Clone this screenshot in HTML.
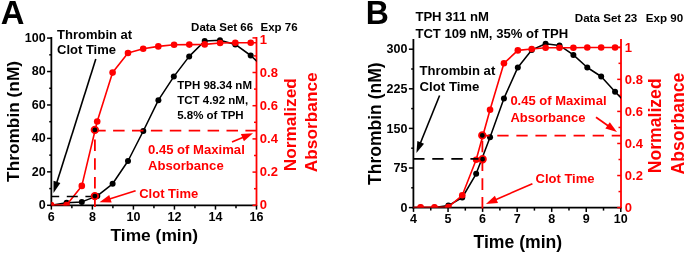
<!DOCTYPE html>
<html><head><meta charset="utf-8"><style>
html,body{margin:0;padding:0;background:#fff;}
svg{display:block;will-change:transform;filter:blur(0.35px);}
text{font-family:"Liberation Sans", sans-serif;font-weight:bold;}
</style></head><body>
<svg width="685" height="253" viewBox="0 0 685 253">
<rect width="685" height="253" fill="#fff"/>
<clipPath id="ca"><rect x="51.35" y="31.0" width="205.15" height="174.5"/></clipPath>
<clipPath id="cb"><rect x="413.2" y="33" width="207.8" height="174.6"/></clipPath>
<line x1="51.35" y1="37.00" x2="51.35" y2="206.20" stroke="#000000" stroke-width="1.8" stroke-linecap="butt"/>
<line x1="50.45" y1="205.30" x2="256.50" y2="205.30" stroke="#000000" stroke-width="1.8" stroke-linecap="butt"/>
<line x1="256.50" y1="37.00" x2="256.50" y2="206.20" stroke="#ff0000" stroke-width="1.8" stroke-linecap="butt"/>
<line x1="47.05" y1="205.30" x2="51.35" y2="205.30" stroke="#000000" stroke-width="1.5" stroke-linecap="butt"/>
<line x1="49.25" y1="188.58" x2="51.35" y2="188.58" stroke="#000000" stroke-width="1.5" stroke-linecap="butt"/>
<line x1="47.05" y1="171.86" x2="51.35" y2="171.86" stroke="#000000" stroke-width="1.5" stroke-linecap="butt"/>
<line x1="49.25" y1="155.14" x2="51.35" y2="155.14" stroke="#000000" stroke-width="1.5" stroke-linecap="butt"/>
<line x1="47.05" y1="138.42" x2="51.35" y2="138.42" stroke="#000000" stroke-width="1.5" stroke-linecap="butt"/>
<line x1="49.25" y1="121.70" x2="51.35" y2="121.70" stroke="#000000" stroke-width="1.5" stroke-linecap="butt"/>
<line x1="47.05" y1="104.98" x2="51.35" y2="104.98" stroke="#000000" stroke-width="1.5" stroke-linecap="butt"/>
<line x1="49.25" y1="88.26" x2="51.35" y2="88.26" stroke="#000000" stroke-width="1.5" stroke-linecap="butt"/>
<line x1="47.05" y1="71.54" x2="51.35" y2="71.54" stroke="#000000" stroke-width="1.5" stroke-linecap="butt"/>
<line x1="49.25" y1="54.82" x2="51.35" y2="54.82" stroke="#000000" stroke-width="1.5" stroke-linecap="butt"/>
<line x1="47.05" y1="38.10" x2="51.35" y2="38.10" stroke="#000000" stroke-width="1.5" stroke-linecap="butt"/>
<line x1="51.35" y1="205.30" x2="51.35" y2="209.60" stroke="#000000" stroke-width="1.5" stroke-linecap="butt"/>
<line x1="71.87" y1="205.30" x2="71.87" y2="208.30" stroke="#000000" stroke-width="1.5" stroke-linecap="butt"/>
<line x1="92.38" y1="205.30" x2="92.38" y2="209.60" stroke="#000000" stroke-width="1.5" stroke-linecap="butt"/>
<line x1="112.90" y1="205.30" x2="112.90" y2="208.30" stroke="#000000" stroke-width="1.5" stroke-linecap="butt"/>
<line x1="133.41" y1="205.30" x2="133.41" y2="209.60" stroke="#000000" stroke-width="1.5" stroke-linecap="butt"/>
<line x1="153.93" y1="205.30" x2="153.93" y2="208.30" stroke="#000000" stroke-width="1.5" stroke-linecap="butt"/>
<line x1="174.44" y1="205.30" x2="174.44" y2="209.60" stroke="#000000" stroke-width="1.5" stroke-linecap="butt"/>
<line x1="194.95" y1="205.30" x2="194.95" y2="208.30" stroke="#000000" stroke-width="1.5" stroke-linecap="butt"/>
<line x1="215.47" y1="205.30" x2="215.47" y2="209.60" stroke="#000000" stroke-width="1.5" stroke-linecap="butt"/>
<line x1="235.99" y1="205.30" x2="235.99" y2="208.30" stroke="#000000" stroke-width="1.5" stroke-linecap="butt"/>
<line x1="256.50" y1="205.30" x2="256.50" y2="209.60" stroke="#000000" stroke-width="1.5" stroke-linecap="butt"/>
<line x1="252.50" y1="205.30" x2="256.50" y2="205.30" stroke="#ff0000" stroke-width="1.5" stroke-linecap="butt"/>
<line x1="254.00" y1="188.70" x2="256.50" y2="188.70" stroke="#ff0000" stroke-width="1.5" stroke-linecap="butt"/>
<line x1="252.50" y1="172.10" x2="256.50" y2="172.10" stroke="#ff0000" stroke-width="1.5" stroke-linecap="butt"/>
<line x1="254.00" y1="155.50" x2="256.50" y2="155.50" stroke="#ff0000" stroke-width="1.5" stroke-linecap="butt"/>
<line x1="252.50" y1="138.90" x2="256.50" y2="138.90" stroke="#ff0000" stroke-width="1.5" stroke-linecap="butt"/>
<line x1="254.00" y1="122.30" x2="256.50" y2="122.30" stroke="#ff0000" stroke-width="1.5" stroke-linecap="butt"/>
<line x1="252.50" y1="105.70" x2="256.50" y2="105.70" stroke="#ff0000" stroke-width="1.5" stroke-linecap="butt"/>
<line x1="254.00" y1="89.10" x2="256.50" y2="89.10" stroke="#ff0000" stroke-width="1.5" stroke-linecap="butt"/>
<line x1="252.50" y1="72.50" x2="256.50" y2="72.50" stroke="#ff0000" stroke-width="1.5" stroke-linecap="butt"/>
<line x1="254.00" y1="55.90" x2="256.50" y2="55.90" stroke="#ff0000" stroke-width="1.5" stroke-linecap="butt"/>
<line x1="252.50" y1="37.90" x2="256.50" y2="37.90" stroke="#ff0000" stroke-width="1.5" stroke-linecap="butt"/>
<g clip-path="url(#ca)">
<polyline points="51.10,205.30 66.60,202.70 81.80,201.90 97.30,195.90 112.60,183.80 128.00,161.00 143.30,131.00 158.40,100.20 173.80,76.60 189.20,56.40 204.70,41.00 220.00,40.20 235.30,44.40 250.70,55.50 262.00,66.00" fill="none" stroke="#000000" stroke-width="1.55" stroke-linejoin="round"/>
<circle cx="51.10" cy="205.30" r="3.0" fill="#000000"/>
<circle cx="66.60" cy="202.70" r="3.0" fill="#000000"/>
<circle cx="81.80" cy="201.90" r="3.0" fill="#000000"/>
<circle cx="97.30" cy="195.90" r="3.0" fill="#000000"/>
<circle cx="112.60" cy="183.80" r="3.0" fill="#000000"/>
<circle cx="128.00" cy="161.00" r="3.0" fill="#000000"/>
<circle cx="143.30" cy="131.00" r="3.0" fill="#000000"/>
<circle cx="158.40" cy="100.20" r="3.0" fill="#000000"/>
<circle cx="173.80" cy="76.60" r="3.0" fill="#000000"/>
<circle cx="189.20" cy="56.40" r="3.0" fill="#000000"/>
<circle cx="204.70" cy="41.00" r="3.0" fill="#000000"/>
<circle cx="220.00" cy="40.20" r="3.0" fill="#000000"/>
<circle cx="235.30" cy="44.40" r="3.0" fill="#000000"/>
<circle cx="250.70" cy="55.50" r="3.0" fill="#000000"/>
<polyline points="51.10,205.00 66.60,205.00 81.80,185.90 97.20,121.50 112.60,72.60 128.00,53.00 143.20,48.80 158.30,46.40 174.10,44.80 189.30,44.60 204.70,44.40 220.10,43.00 235.30,42.80 250.70,42.80 262.00,42.60" fill="none" stroke="#ff0000" stroke-width="1.6" stroke-linejoin="round"/>
<circle cx="51.10" cy="205.00" r="3.3" fill="#ff0000"/>
<circle cx="66.60" cy="205.00" r="3.3" fill="#ff0000"/>
<circle cx="81.80" cy="185.90" r="3.3" fill="#ff0000"/>
<circle cx="97.20" cy="121.50" r="3.3" fill="#ff0000"/>
<circle cx="112.60" cy="72.60" r="3.3" fill="#ff0000"/>
<circle cx="128.00" cy="53.00" r="3.3" fill="#ff0000"/>
<circle cx="143.20" cy="48.80" r="3.3" fill="#ff0000"/>
<circle cx="158.30" cy="46.40" r="3.3" fill="#ff0000"/>
<circle cx="174.10" cy="44.80" r="3.3" fill="#ff0000"/>
<circle cx="189.30" cy="44.60" r="3.3" fill="#ff0000"/>
<circle cx="204.70" cy="44.40" r="3.3" fill="#ff0000"/>
<circle cx="220.10" cy="43.00" r="3.3" fill="#ff0000"/>
<circle cx="235.30" cy="42.80" r="3.3" fill="#ff0000"/>
<circle cx="250.70" cy="42.80" r="3.3" fill="#ff0000"/>
</g>
<line x1="94.85" y1="130.70" x2="256.50" y2="130.70" stroke="#ff0000" stroke-width="1.8" stroke-linecap="butt" stroke-dasharray="11.5,7.4" stroke-dashoffset="0.65"/>
<line x1="94.90" y1="130.00" x2="94.90" y2="207.00" stroke="#ff0000" stroke-width="1.8" stroke-linecap="butt" stroke-dasharray="11.5,7.3" stroke-dashoffset="9.4"/>
<line x1="51.10" y1="196.50" x2="94.85" y2="196.50" stroke="#000000" stroke-width="1.6" stroke-linecap="butt" stroke-dasharray="11,7.6" stroke-dashoffset="2.9"/>
<circle cx="94.85" cy="129.90" r="3.3" fill="#000000" stroke="#ff0000" stroke-width="1.8"/>
<circle cx="94.85" cy="196.10" r="3.3" fill="#000000" stroke="#ff0000" stroke-width="1.8"/>
<text x="45.60" y="209.10" font-size="12.5" fill="#000000" text-anchor="end" >0</text>
<text x="45.60" y="175.66" font-size="12.5" fill="#000000" text-anchor="end" >20</text>
<text x="45.60" y="142.22" font-size="12.5" fill="#000000" text-anchor="end" >40</text>
<text x="45.60" y="108.78" font-size="12.5" fill="#000000" text-anchor="end" >60</text>
<text x="45.60" y="75.34" font-size="12.5" fill="#000000" text-anchor="end" >80</text>
<text x="45.60" y="41.90" font-size="12.5" fill="#000000" text-anchor="end" >100</text>
<text x="51.35" y="221.00" font-size="12.5" fill="#000000" text-anchor="middle" >6</text>
<text x="92.38" y="221.00" font-size="12.5" fill="#000000" text-anchor="middle" >8</text>
<text x="133.41" y="221.00" font-size="12.5" fill="#000000" text-anchor="middle" >10</text>
<text x="174.44" y="221.00" font-size="12.5" fill="#000000" text-anchor="middle" >12</text>
<text x="215.47" y="221.00" font-size="12.5" fill="#000000" text-anchor="middle" >14</text>
<text x="256.50" y="221.00" font-size="12.5" fill="#000000" text-anchor="middle" >16</text>
<text x="259.80" y="208.90" font-size="13" fill="#ff0000" text-anchor="start" >0</text>
<text x="259.80" y="176.20" font-size="13" fill="#ff0000" text-anchor="start" >0.2</text>
<text x="259.80" y="143.20" font-size="13" fill="#ff0000" text-anchor="start" >0.4</text>
<text x="259.80" y="109.80" font-size="13" fill="#ff0000" text-anchor="start" >0.6</text>
<text x="259.80" y="76.50" font-size="13" fill="#ff0000" text-anchor="start" >0.8</text>
<text x="259.80" y="43.50" font-size="13" fill="#ff0000" text-anchor="start" >1</text>
<text transform="translate(0.75,23.7) scale(1.025,1.035)" font-size="32" fill="#000000">A</text>
<text x="57.00" y="39.20" font-size="13" fill="#000000" text-anchor="start" >Thrombin at</text>
<text x="57.00" y="54.40" font-size="13" fill="#000000" text-anchor="start" >Clot Time</text>
<line x1="95.80" y1="59.00" x2="56.66" y2="182.89" stroke="#000000" stroke-width="1.6" stroke-linecap="butt"/>
<polygon points="53.50,192.90 53.53,180.85 60.40,183.02" fill="#000000"/>
<text x="191.10" y="31.30" font-size="11.5" fill="#000000" text-anchor="start" >Data Set 66</text>
<text x="260.50" y="31.30" font-size="11.5" fill="#000000" text-anchor="start" >Exp 76</text>
<text x="177.20" y="89.30" font-size="11.5" fill="#000000" text-anchor="start" >TPH 98.34 nM</text>
<text x="177.20" y="104.00" font-size="11.5" fill="#000000" text-anchor="start" >TCT 4.92 nM,</text>
<text x="177.20" y="118.70" font-size="11.5" fill="#000000" text-anchor="start" >5.8% of TPH</text>
<text x="148.00" y="154.30" font-size="13.1" fill="#ff0000" text-anchor="start" >0.45 of Maximal</text>
<text x="148.00" y="170.30" font-size="13.1" fill="#ff0000" text-anchor="start" >Absorbance</text>
<line x1="232.00" y1="142.00" x2="243.32" y2="137.26" stroke="#ff0000" stroke-width="1.7" stroke-linecap="butt"/>
<polygon points="253.00,133.20 243.90,141.24 240.89,134.05" fill="#ff0000"/>
<text x="139.20" y="197.70" font-size="13" fill="#ff0000" text-anchor="start" >Clot Time</text>
<line x1="135.60" y1="190.70" x2="109.50" y2="199.01" stroke="#ff0000" stroke-width="1.7" stroke-linecap="butt"/>
<polygon points="99.50,202.20 109.27,194.99 111.64,202.43" fill="#ff0000"/>
<text x="110.50" y="241.20" font-size="17.4" fill="#000000" text-anchor="start" >Time (min)</text>
<text transform="translate(19.0,181.9) rotate(-90)" font-size="17.3" fill="#000000">Thrombin (nM)</text>
<text transform="translate(295.7,171.3) rotate(-90)" font-size="17.3" fill="#ff0000">Normalized</text>
<text transform="translate(317.2,172.2) rotate(-90)" font-size="17.3" fill="#ff0000">Absorbance</text>
<line x1="413.40" y1="39.00" x2="413.40" y2="208.50" stroke="#000000" stroke-width="1.8" stroke-linecap="butt"/>
<line x1="412.50" y1="207.60" x2="621.00" y2="207.60" stroke="#000000" stroke-width="1.8" stroke-linecap="butt"/>
<line x1="621.00" y1="39.00" x2="621.00" y2="208.50" stroke="#ff0000" stroke-width="1.8" stroke-linecap="butt"/>
<line x1="408.90" y1="207.60" x2="413.40" y2="207.60" stroke="#000000" stroke-width="1.5" stroke-linecap="butt"/>
<line x1="411.20" y1="187.80" x2="413.40" y2="187.80" stroke="#000000" stroke-width="1.5" stroke-linecap="butt"/>
<line x1="408.90" y1="168.00" x2="413.40" y2="168.00" stroke="#000000" stroke-width="1.5" stroke-linecap="butt"/>
<line x1="411.20" y1="148.20" x2="413.40" y2="148.20" stroke="#000000" stroke-width="1.5" stroke-linecap="butt"/>
<line x1="408.90" y1="128.40" x2="413.40" y2="128.40" stroke="#000000" stroke-width="1.5" stroke-linecap="butt"/>
<line x1="411.20" y1="108.60" x2="413.40" y2="108.60" stroke="#000000" stroke-width="1.5" stroke-linecap="butt"/>
<line x1="408.90" y1="88.80" x2="413.40" y2="88.80" stroke="#000000" stroke-width="1.5" stroke-linecap="butt"/>
<line x1="411.20" y1="69.00" x2="413.40" y2="69.00" stroke="#000000" stroke-width="1.5" stroke-linecap="butt"/>
<line x1="408.90" y1="49.20" x2="413.40" y2="49.20" stroke="#000000" stroke-width="1.5" stroke-linecap="butt"/>
<line x1="413.50" y1="207.60" x2="413.50" y2="211.90" stroke="#000000" stroke-width="1.5" stroke-linecap="butt"/>
<line x1="430.77" y1="207.60" x2="430.77" y2="210.60" stroke="#000000" stroke-width="1.5" stroke-linecap="butt"/>
<line x1="448.05" y1="207.60" x2="448.05" y2="211.90" stroke="#000000" stroke-width="1.5" stroke-linecap="butt"/>
<line x1="465.32" y1="207.60" x2="465.32" y2="210.60" stroke="#000000" stroke-width="1.5" stroke-linecap="butt"/>
<line x1="482.60" y1="207.60" x2="482.60" y2="211.90" stroke="#000000" stroke-width="1.5" stroke-linecap="butt"/>
<line x1="499.88" y1="207.60" x2="499.88" y2="210.60" stroke="#000000" stroke-width="1.5" stroke-linecap="butt"/>
<line x1="517.15" y1="207.60" x2="517.15" y2="211.90" stroke="#000000" stroke-width="1.5" stroke-linecap="butt"/>
<line x1="534.42" y1="207.60" x2="534.42" y2="210.60" stroke="#000000" stroke-width="1.5" stroke-linecap="butt"/>
<line x1="551.70" y1="207.60" x2="551.70" y2="211.90" stroke="#000000" stroke-width="1.5" stroke-linecap="butt"/>
<line x1="568.98" y1="207.60" x2="568.98" y2="210.60" stroke="#000000" stroke-width="1.5" stroke-linecap="butt"/>
<line x1="586.25" y1="207.60" x2="586.25" y2="211.90" stroke="#000000" stroke-width="1.5" stroke-linecap="butt"/>
<line x1="603.52" y1="207.60" x2="603.52" y2="210.60" stroke="#000000" stroke-width="1.5" stroke-linecap="butt"/>
<line x1="620.80" y1="207.60" x2="620.80" y2="211.90" stroke="#000000" stroke-width="1.5" stroke-linecap="butt"/>
<line x1="617.20" y1="207.60" x2="621.00" y2="207.60" stroke="#ff0000" stroke-width="1.5" stroke-linecap="butt"/>
<line x1="618.50" y1="191.57" x2="621.00" y2="191.57" stroke="#ff0000" stroke-width="1.5" stroke-linecap="butt"/>
<line x1="617.20" y1="175.54" x2="621.00" y2="175.54" stroke="#ff0000" stroke-width="1.5" stroke-linecap="butt"/>
<line x1="618.50" y1="159.51" x2="621.00" y2="159.51" stroke="#ff0000" stroke-width="1.5" stroke-linecap="butt"/>
<line x1="617.20" y1="143.48" x2="621.00" y2="143.48" stroke="#ff0000" stroke-width="1.5" stroke-linecap="butt"/>
<line x1="618.50" y1="127.45" x2="621.00" y2="127.45" stroke="#ff0000" stroke-width="1.5" stroke-linecap="butt"/>
<line x1="617.20" y1="111.42" x2="621.00" y2="111.42" stroke="#ff0000" stroke-width="1.5" stroke-linecap="butt"/>
<line x1="618.50" y1="95.39" x2="621.00" y2="95.39" stroke="#ff0000" stroke-width="1.5" stroke-linecap="butt"/>
<line x1="617.20" y1="79.36" x2="621.00" y2="79.36" stroke="#ff0000" stroke-width="1.5" stroke-linecap="butt"/>
<line x1="618.50" y1="63.33" x2="621.00" y2="63.33" stroke="#ff0000" stroke-width="1.5" stroke-linecap="butt"/>
<line x1="617.20" y1="47.30" x2="621.00" y2="47.30" stroke="#ff0000" stroke-width="1.5" stroke-linecap="butt"/>
<g clip-path="url(#cb)">
<polyline points="406.70,207.60 420.60,207.60 434.49,207.60 448.38,205.60 462.27,197.50 476.16,173.80 490.05,137.30 503.94,98.40 517.83,67.40 531.72,49.90 545.61,43.80 559.50,45.40 573.39,54.90 587.28,67.50 601.17,76.50 615.06,91.70 628.90,106.00" fill="none" stroke="#000000" stroke-width="1.55" stroke-linejoin="round"/>
<circle cx="420.60" cy="207.60" r="3.0" fill="#000000"/>
<circle cx="434.49" cy="207.60" r="3.0" fill="#000000"/>
<circle cx="448.38" cy="205.60" r="3.0" fill="#000000"/>
<circle cx="462.27" cy="197.50" r="3.0" fill="#000000"/>
<circle cx="476.16" cy="173.80" r="3.0" fill="#000000"/>
<circle cx="490.05" cy="137.30" r="3.0" fill="#000000"/>
<circle cx="503.94" cy="98.40" r="3.0" fill="#000000"/>
<circle cx="517.83" cy="67.40" r="3.0" fill="#000000"/>
<circle cx="531.72" cy="49.90" r="3.0" fill="#000000"/>
<circle cx="545.61" cy="43.80" r="3.0" fill="#000000"/>
<circle cx="559.50" cy="45.40" r="3.0" fill="#000000"/>
<circle cx="573.39" cy="54.90" r="3.0" fill="#000000"/>
<circle cx="587.28" cy="67.50" r="3.0" fill="#000000"/>
<circle cx="601.17" cy="76.50" r="3.0" fill="#000000"/>
<circle cx="615.06" cy="91.70" r="3.0" fill="#000000"/>
<polyline points="406.70,207.60 420.60,207.30 434.49,207.30 448.38,207.00 462.27,195.30 476.16,159.80 490.05,109.70 503.94,63.30 517.83,50.40 531.72,49.00 545.61,47.80 559.50,47.80 573.39,47.80 587.28,47.50 601.17,47.50 615.06,47.50 628.90,47.50" fill="none" stroke="#ff0000" stroke-width="1.6" stroke-linejoin="round"/>
<circle cx="420.60" cy="207.30" r="3.3" fill="#ff0000"/>
<circle cx="434.49" cy="207.30" r="3.3" fill="#ff0000"/>
<circle cx="448.38" cy="207.00" r="3.3" fill="#ff0000"/>
<circle cx="462.27" cy="195.30" r="3.3" fill="#ff0000"/>
<circle cx="476.16" cy="159.80" r="3.3" fill="#ff0000"/>
<circle cx="490.05" cy="109.70" r="3.3" fill="#ff0000"/>
<circle cx="503.94" cy="63.30" r="3.3" fill="#ff0000"/>
<circle cx="517.83" cy="50.40" r="3.3" fill="#ff0000"/>
<circle cx="531.72" cy="49.00" r="3.3" fill="#ff0000"/>
<circle cx="545.61" cy="47.80" r="3.3" fill="#ff0000"/>
<circle cx="559.50" cy="47.80" r="3.3" fill="#ff0000"/>
<circle cx="573.39" cy="47.80" r="3.3" fill="#ff0000"/>
<circle cx="587.28" cy="47.50" r="3.3" fill="#ff0000"/>
<circle cx="601.17" cy="47.50" r="3.3" fill="#ff0000"/>
<circle cx="615.06" cy="47.50" r="3.3" fill="#ff0000"/>
</g>
<line x1="482.30" y1="135.70" x2="621.00" y2="135.70" stroke="#ff0000" stroke-width="1.8" stroke-linecap="butt" stroke-dasharray="11.3,7.77" stroke-dashoffset="4.07"/>
<line x1="482.40" y1="135.40" x2="482.40" y2="208.50" stroke="#ff0000" stroke-width="1.8" stroke-linecap="butt" stroke-dasharray="11.6,7.2" stroke-dashoffset="13.5"/>
<line x1="413.20" y1="158.90" x2="482.40" y2="158.90" stroke="#000000" stroke-width="1.6" stroke-linecap="butt" stroke-dasharray="11.3,7.77" stroke-dashoffset="0"/>
<circle cx="482.30" cy="135.40" r="3.3" fill="#000000" stroke="#ff0000" stroke-width="1.8"/>
<circle cx="482.60" cy="159.20" r="3.3" fill="#000000" stroke="#ff0000" stroke-width="1.8"/>
<text x="407.40" y="211.80" font-size="12.5" fill="#000000" text-anchor="end" >0</text>
<text x="407.40" y="172.20" font-size="12.5" fill="#000000" text-anchor="end" >75</text>
<text x="407.40" y="132.60" font-size="12.5" fill="#000000" text-anchor="end" >150</text>
<text x="407.40" y="93.00" font-size="12.5" fill="#000000" text-anchor="end" >225</text>
<text x="407.40" y="53.40" font-size="12.5" fill="#000000" text-anchor="end" >300</text>
<text x="413.50" y="223.20" font-size="12.5" fill="#000000" text-anchor="middle" >4</text>
<text x="448.05" y="223.20" font-size="12.5" fill="#000000" text-anchor="middle" >5</text>
<text x="482.60" y="223.20" font-size="12.5" fill="#000000" text-anchor="middle" >6</text>
<text x="517.15" y="223.20" font-size="12.5" fill="#000000" text-anchor="middle" >7</text>
<text x="551.70" y="223.20" font-size="12.5" fill="#000000" text-anchor="middle" >8</text>
<text x="586.25" y="223.20" font-size="12.5" fill="#000000" text-anchor="middle" >9</text>
<text x="620.80" y="223.20" font-size="12.5" fill="#000000" text-anchor="middle" >10</text>
<text x="624.80" y="211.80" font-size="13" fill="#ff0000" text-anchor="start" >0</text>
<text x="624.80" y="179.74" font-size="13" fill="#ff0000" text-anchor="start" >0.2</text>
<text x="624.80" y="147.68" font-size="13" fill="#ff0000" text-anchor="start" >0.4</text>
<text x="624.80" y="115.62" font-size="13" fill="#ff0000" text-anchor="start" >0.6</text>
<text x="624.80" y="83.56" font-size="13" fill="#ff0000" text-anchor="start" >0.8</text>
<text x="624.80" y="51.50" font-size="13" fill="#ff0000" text-anchor="start" >1</text>
<text transform="translate(365.7,23.8) scale(1,1.035)" font-size="32" fill="#000000">B</text>
<text x="415.40" y="21.40" font-size="13.1" fill="#000000" text-anchor="start" >TPH 311 nM</text>
<text x="415.40" y="37.80" font-size="13.1" fill="#000000" text-anchor="start" >TCT 109 nM, 35% of TPH</text>
<text x="574.80" y="21.90" font-size="11.6" fill="#000000" text-anchor="start" >Data Set 23</text>
<text x="645.80" y="21.90" font-size="11.6" fill="#000000" text-anchor="start" >Exp 90</text>
<text x="419.60" y="74.60" font-size="13.1" fill="#000000" text-anchor="start" >Thrombin at</text>
<text x="419.60" y="91.20" font-size="13.2" fill="#000000" text-anchor="start" >Clot Time</text>
<line x1="439.60" y1="95.50" x2="420.33" y2="143.26" stroke="#000000" stroke-width="1.6" stroke-linecap="butt"/>
<polygon points="416.40,153.00 417.36,140.99 424.04,143.68" fill="#000000"/>
<text x="510.40" y="105.30" font-size="13" fill="#ff0000" text-anchor="start" >0.45 of Maximal</text>
<text x="510.40" y="121.90" font-size="13" fill="#ff0000" text-anchor="start" >Absorbance</text>
<line x1="596.00" y1="117.30" x2="608.40" y2="125.98" stroke="#ff0000" stroke-width="1.7" stroke-linecap="butt"/>
<polygon points="617.00,132.00 605.34,128.60 609.82,122.21" fill="#ff0000"/>
<text x="535.50" y="183.10" font-size="13" fill="#ff0000" text-anchor="start" >Clot Time</text>
<line x1="532.40" y1="183.70" x2="495.53" y2="199.72" stroke="#ff0000" stroke-width="1.7" stroke-linecap="butt"/>
<polygon points="485.90,203.90 494.89,195.74 498.00,202.90" fill="#ff0000"/>
<text x="473.50" y="247.50" font-size="17.6" fill="#000000" text-anchor="start" >Time (min)</text>
<text transform="translate(380.6,184.9) rotate(-90)" font-size="17.5" fill="#000000">Thrombin (nM)</text>
<text transform="translate(661.2,173.2) rotate(-90)" font-size="17.6" fill="#ff0000">Normalized</text>
<text transform="translate(683.6,174.4) rotate(-90)" font-size="17.6" fill="#ff0000">Absorbance</text>
</svg>
</body></html>
